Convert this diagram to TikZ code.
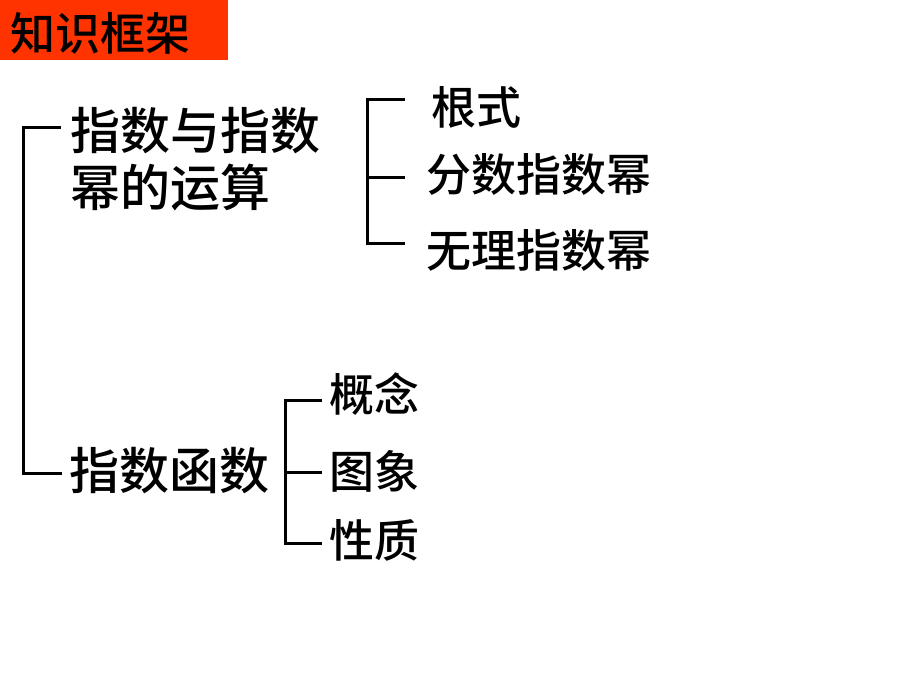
\documentclass[tikz,border=0pt]{standalone}
\usepackage{fontspec}
\usepackage{tikz}
\newfontfamily\cjk{Noto Sans CJK SC Medium}
\definecolor{titlered}{RGB}{255,51,0}

\begin{document}
\begin{tikzpicture}[x=1pt,y=-1pt,line width=3pt,
        big/.style={anchor=west,inner sep=0pt,font=\cjk\fontsize{50}{56}\selectfont},
        small/.style={anchor=west,inner sep=0pt,font=\cjk\fontsize{45}{50}\selectfont}]
            \useasboundingbox (0,0) rectangle (920,690);

            \fill[titlered] (0,0) rectangle (228,60);
            \node[small] (title) at (9,33) {知识框架};

            \node[big] (expop) at (69,131) {指数与指数};
            \node[big] (expop2) at (69,188) {幂的运算};
            \node[big] (expfn) at (68,471) {指数函数};

            \node[small] (radical) at (430,107) {根式};
            \node[small] (fracpow) at (425,174) {分数指数幂};
            \node[small] (irrpow) at (425,250) {无理指数幂};

            \node[small] (concept) at (328,394) {概念};
            \node[small] (graph) at (328,471) {图象};
            \node[small] (prop) at (328,540) {性质};

            \coordinate (root) at (23,300);
            \coordinate (t0) at ([xshift=-8pt,yshift=4pt]expop.west);
            \coordinate (b0) at ([xshift=-6pt,yshift=-2pt]expfn.west);
            \draw (t0) -| (root) |- (b0);

            \coordinate (bar1) at ([xshift=-58pt,yshift=-3pt]fracpow.west);
            \coordinate (t1) at ([xshift=-25pt,yshift=7pt]radical.west);
            \coordinate (m1) at ([xshift=-20pt,yshift=-3pt]fracpow.west);
            \coordinate (b1) at ([xshift=-20pt,yshift=7pt]irrpow.west);
            \draw (t1) -| (bar1) |- (b1);
            \draw (bar1) -- (m1);

            \coordinate (bar2) at ([xshift=-43pt,yshift=-1pt]graph.west);
            \coordinate (t2) at ([xshift=-6pt,yshift=-6pt]concept.west);
            \coordinate (m2) at ([xshift=-6pt,yshift=-1pt]graph.west);
            \coordinate (b2) at ([xshift=-6pt,yshift=-3pt]prop.west);
            \draw (t2) -| (bar2) |- (b2);
            \draw (bar2) -- (m2);
        \end{tikzpicture}
\end{document}
